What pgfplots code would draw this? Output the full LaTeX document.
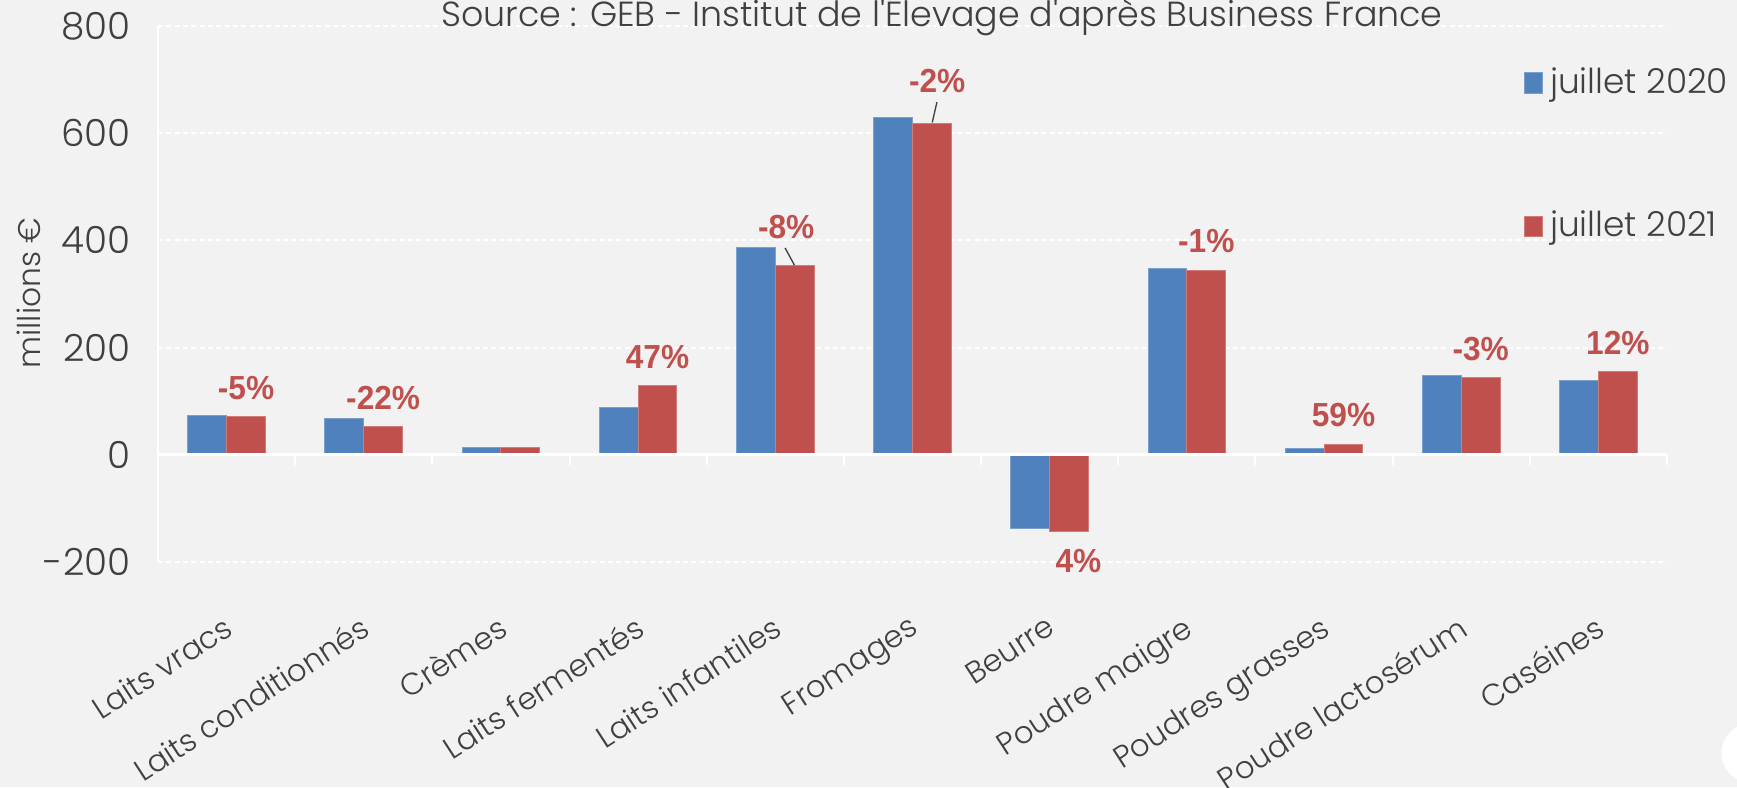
\documentclass[border=0pt]{standalone}
\usepackage{pgfplots}
\pgfplotsset{compat=1.18}
\usepackage{pgfplotstable}
\usepackage{fontspec}
\setmainfont{Poppins Light}
\newfontfamily\titlefont{Poppins Light}
\newfontfamily\lblfont[FakeStretch=0.95]{Liberation Sans}

\definecolor{bgc}{HTML}{F2F2F2}
\definecolor{blue20}{HTML}{4F81BD}
\definecolor{red21}{HTML}{C0504D}
\definecolor{txt}{HTML}{404040}

% exportations, millions d'euros
\pgfplotstableread{
idx a b
0 74 71
1 67 52
2 13 13
3 88 129
4 386 354
5 630 619
6 -137 -143
7 347 344
8 12.5 20
9 148 144
10 138 155
}\exports

\begin{document}
\begin{tikzpicture}
\fill[bgc] (0,0) rectangle (521.1pt,236.1pt);
\begin{axis}[
    at={(47.4pt,67.5pt)}, anchor=south west,
    width=452.7pt, height=160.8pt, scale only axis,
    ybar=0pt, bar width=0.283,
    xmin=-0.5, xmax=10.5, ymin=-200, ymax=800,
    xtick={0,...,10},
    xticklabels={Laits vracs, Laits conditionnés, Crèmes, Laits fermentés, Laits infantiles, Fromages, Beurre, Poudre maigre, Poudres grasses, Poudre lactosérum, Caséines},
    ytick={-200,0,200,400,600,800},
    /pgf/number format/assume math mode=true,
    ymajorgrids,
    grid style={white, line width=0.6pt, dash pattern=on 1.5pt off 1pt},
    axis line style={draw=none},
    tick style={draw=none},
    xticklabel style={yshift=-11.2pt, xshift=-1.35pt, rotate=33, anchor=north east, inner sep=0pt,
        font=\fontsize{9.2}{11}\selectfont, text=txt},
    yticklabel style={font=\fontsize{11.2}{13}\selectfont, text=txt, xshift=-4.7pt},
    legend style={draw=none, fill=none, at={(0.9046,0.936)}, anchor=north west,
        inner sep=0pt, row sep=29.8pt, font=\fontsize{10.3}{12}\selectfont, text=txt,
        legend cell align=left},
    legend image code/.code={\fill[#1] (0pt,-3.1pt) rectangle (5.6pt,3.1pt);},
    clip=false,
]
\addplot[fill=blue20, draw=blue20!75!white, line width=0.3pt] table[x=idx, y=a] {\exports};
\addplot[fill=red21, draw=red21!75!white, line width=0.3pt] table[x=idx, y=b] {\exports};
\legend{juillet 2020, juillet 2021}

\draw[white, line width=0.8pt] (axis cs:-0.5,-200) -- (axis cs:-0.5,800);
\draw[white, line width=0.8pt] (axis cs:-0.5,0) -- (axis cs:10.5,0);
\pgfplotsinvokeforeach{-0.5,0.5,...,10.5}{
    \draw[white, line width=0.6pt] (axis cs:#1,0) -- ++(0pt,-3pt);
}

% étiquettes de variation
\tikzset{lab/.style={font=\lblfont\bfseries\fontsize{10}{12}\selectfont, text=red21}}
\node[lab] at (axis cs:0.1415,124) {-5\%};
\node[lab] at (axis cs:1.1415,106) {-22\%};
\node[lab] at (axis cs:3.1415,183) {47\%};
\node[lab] at (axis cs:4.079,425) {-8\%};
\node[lab] at (axis cs:5.18,697) {-2\%};
\node[lab] at (axis cs:6.21,-199) {4\%};
\node[lab] at (axis cs:7.1415,398) {-1\%};
\node[lab] at (axis cs:8.1415,74) {59\%};
\node[lab] at (axis cs:9.1415,197) {-3\%};
\node[lab] at (axis cs:10.1415,208) {12\%};
\draw[txt, line width=0.4pt] (axis cs:4.071,386) -- (axis cs:4.139,354);
\draw[txt, line width=0.4pt] (axis cs:5.178,658) -- (axis cs:5.144,620);
\end{axis}

\node[anchor=base, font=\titlefont\fontsize{10.45}{12}\selectfont, text=txt] at (282.6pt,228pt)
    {Source : GEB - Institut de l'Élevage d'après Business France};
\node[rotate=90, font=\fontsize{9.4}{11}\selectfont, text=txt] at (8.55pt,148.2pt) {millions €};
\fill[white] (525.45pt,10.2pt) ellipse (9pt and 9pt);

\pgfresetboundingbox
\path (0,0) rectangle (521.1pt,236.1pt);
\end{tikzpicture}
\end{document}
